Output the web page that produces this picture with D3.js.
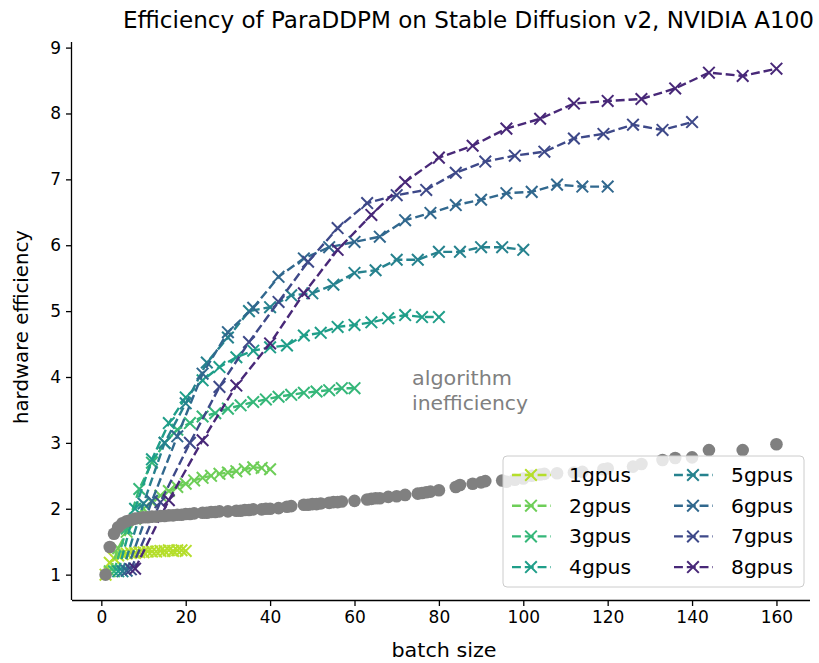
<!DOCTYPE html>
<html><head><meta charset="utf-8">
<script src="https://cdn.jsdelivr.net/npm/d3@7"></script>
<style>body{margin:0;background:#fff;} text{font-family:"DejaVu Sans",sans-serif;}</style>
</head><body><svg id="c" width="819" height="663"></svg>
<script>
// ---------- data ----------
const seriesNames = ["1gpus","2gpus","3gpus","4gpus","5gpus","6gpus","7gpus","8gpus"];
const gpuCounts = [1,2,3,4,5,6,7,8];
const perGpuBatch = [1,2,3,4,5,6,7,8,9,10,11,12,13,14,15,16,17,18,19,20];
const eff1 = [1.00,1.18,1.25,1.29,1.31,1.32,1.33,1.33,1.34,1.34,1.35,1.35,1.35,1.36,1.36,1.37,1.36,1.37,1.37,1.36];
const eff2 = [1.05,1.40,1.65,1.85,2.00,2.10,2.20,2.27,2.33,2.38,2.43,2.47,2.50,2.53,2.55,2.57,2.60,2.63,2.62,2.60];
const eff3 = [1.05,1.70,2.30,2.70,3.00,3.20,3.30,3.40,3.45,3.52,3.57,3.62,3.66,3.70,3.73,3.76,3.78,3.80,3.83,3.83];
const eff4 = [1.05,2.00,2.75,3.30,3.69,3.95,4.15,4.30,4.40,4.45,4.48,4.63,4.67,4.76,4.79,4.83,4.89,4.94,4.91,4.91];
const eff5 = [1.05,2.08,3.00,3.60,4.22,4.60,5.00,5.06,5.24,5.27,5.40,5.58,5.62,5.78,5.78,5.90,5.90,5.97,5.97,5.93];
const eff6 = [1.06,2.12,3.10,4.05,4.68,5.05,5.52,5.80,5.97,6.05,6.13,6.38,6.49,6.61,6.69,6.79,6.81,6.92,6.89,6.89];
const eff7 = [1.08,2.10,3.00,3.85,4.53,5.14,5.75,6.26,6.64,6.76,6.84,7.10,7.27,7.36,7.42,7.62,7.69,7.83,7.75,7.87];
const eff8 = [1.09,2.13,3.04,3.87,4.51,5.27,5.93,6.46,6.96,7.33,7.51,7.77,7.92,8.15,8.19,8.22,8.38,8.62,8.57,8.68];
const effAll = [eff1,eff2,eff3,eff4,eff5,eff6,eff7,eff8];

const grayBatch = [1,2,3,4,5,6,7,8,9,10,11,12,13,14,15,16,17,18,19,20,
  21,22,24,25,26,27,28,30,32,33,34,35,36,38,39,40,
  42,44,45,48,49,50,51,52,54,55,56,57,60,
  63,64,65,66,68,70,72,75,76,77,78,80,
  84,85,88,90,91,95,96,98,100,
  102,104,105,108,112,114,119,120,
  126,128,133,136,140,144,152,160];
const grayEff = [1.00,1.42,1.62,1.72,1.78,1.81,1.83,1.85,1.86,1.87,1.87,1.88,1.88,1.89,1.89,1.90,1.90,1.91,1.91,1.92,
  1.92,1.93,1.94,1.94,1.95,1.95,1.96,1.96,1.97,1.97,1.98,1.98,1.99,1.99,2.00,2.00,
  2.01,2.03,2.04,2.06,2.06,2.07,2.07,2.08,2.09,2.10,2.10,2.11,2.12,
  2.14,2.15,2.16,2.16,2.18,2.19,2.21,2.23,2.24,2.25,2.26,2.28,
  2.33,2.36,2.38,2.40,2.42,2.43,2.41,2.44,2.46,
  2.50,2.52,2.53,2.54,2.55,2.56,2.60,2.61,
  2.64,2.68,2.74,2.77,2.78,2.89,2.89,2.98];

const xTicks = [0,20,40,60,80,100,120,140,160];
const yTicks = [1,2,3,4,5,6,7,8,9];

// ---------- style ----------
const colors = ["#b5de2b","#6ece58","#35b779","#1f9e89","#26828e","#31688e","#3e4989","#482878"];
const svg = d3.select("#c");
const L = 72, R = 810, T = 42, B = 600;
const x = d3.scaleLinear().domain([-6.95, 167.95]).range([L, R]);
const y = d3.scaleLinear().domain([0.615, 9.085]).range([B, T]);

// title
svg.append("text").attr("x", 123).attr("y", 28).attr("text-anchor","start")
  .attr("font-size", 23).attr("fill","#000")
  .attr("textLength", 691).attr("lengthAdjust","spacingAndGlyphs")
  .text("Efficiency of ParaDDPM on Stable Diffusion v2, NVIDIA A100");

// axes
const xAxis = svg.append("g").attr("transform", `translate(0,${B})`)
  .call(d3.axisBottom(x).tickValues(xTicks).tickSize(6).tickPadding(5).tickFormat(d3.format("d")));
const yAxis = svg.append("g").attr("transform", `translate(${L},0)`)
  .call(d3.axisLeft(y).tickValues(yTicks).tickSize(6).tickPadding(5).tickFormat(d3.format("d")));
[xAxis, yAxis].forEach(g => {
  g.select(".domain").attr("stroke","#000").attr("stroke-width",1.3);
  g.selectAll(".tick line").attr("stroke","#000").attr("stroke-width",1.3);
  g.selectAll(".tick text").attr("font-size",17).attr("fill","#000").attr("font-family","DejaVu Sans, sans-serif");
});
xAxis.select(".domain").attr("d", `M${L},0.5H${R}`);
yAxis.select(".domain").attr("d", `M-0.5,${B}V${T}`);

svg.append("text").attr("x",444).attr("y",657).attr("text-anchor","middle")
  .attr("font-size",20).attr("textLength",105).attr("lengthAdjust","spacingAndGlyphs").text("batch size");
svg.append("text").attr("transform",`translate(28,${327}) rotate(-90)`).attr("text-anchor","middle")
  .attr("font-size",20).attr("textLength",194).attr("lengthAdjust","spacingAndGlyphs").text("hardware efficiency");

// series
const xMark = s => `M${-s},${-s}L${s},${s}M${-s},${s}L${s},${-s}`;
const line = d3.line().x(d => x(d.b)).y(d => y(d.v));
effAll.forEach((vals, i) => {
  const n = gpuCounts[i];
  const pts = vals.map((v, k) => ({b: n * perGpuBatch[k], v}));
  const g = svg.append("g");
  g.append("path").datum(pts).attr("d", line).attr("fill","none")
    .attr("stroke", colors[i]).attr("stroke-width", 2.4).attr("stroke-dasharray","8.9,3.9");
  g.selectAll("path.m").data(pts).join("path").attr("class","m")
    .attr("transform", d => `translate(${x(d.b)},${y(d.v)})`)
    .attr("d", xMark(5.8)).attr("stroke", colors[i]).attr("stroke-width", 2).attr("fill","none");
});

// gray dots (algorithm inefficiency)
svg.append("g").selectAll("circle").data(grayBatch.map((b,i)=>({b, v: grayEff[i]})))
  .join("circle").attr("cx", d => x(d.b)).attr("cy", d => y(d.v)).attr("r", 6.3).attr("fill","#808080");

svg.append("text").attr("x",412).attr("y",385).attr("font-size",20).attr("fill","#808080")
  .attr("textLength",100).attr("lengthAdjust","spacingAndGlyphs").text("algorithm");
svg.append("text").attr("x",412).attr("y",410).attr("font-size",20).attr("fill","#808080")
  .attr("textLength",116).attr("lengthAdjust","spacingAndGlyphs").text("inefficiency");

// legend
const lg = svg.append("g");
lg.append("rect").attr("x",503).attr("y",456).attr("width",301).attr("height",131).attr("rx",4)
  .attr("fill","#fff").attr("fill-opacity",0.8).attr("stroke","#cccccc").attr("stroke-width",1);
seriesNames.forEach((name, i) => {
  const col = Math.floor(i / 4), row = i % 4;
  const hx = col === 0 ? 511 : 673;
  const ty = 475 + row * 30.7;
  const e = lg.append("g");
  e.append("line").attr("x1",hx).attr("x2",hx+40).attr("y1",ty).attr("y2",ty)
    .attr("stroke",colors[i]).attr("stroke-width",2.4).attr("stroke-dasharray","8.9,3.9")
    .attr("stroke-dashoffset",-1);
  e.append("path").attr("transform",`translate(${hx+20},${ty})`).attr("d", xMark(5.8))
    .attr("stroke",colors[i]).attr("stroke-width",2).attr("fill","none");
  e.append("text").attr("x", col === 0 ? 569 : 731).attr("y", ty + 7).attr("font-size",20)
    .attr("textLength",62).attr("lengthAdjust","spacingAndGlyphs").text(name);
});
</script></body></html>
